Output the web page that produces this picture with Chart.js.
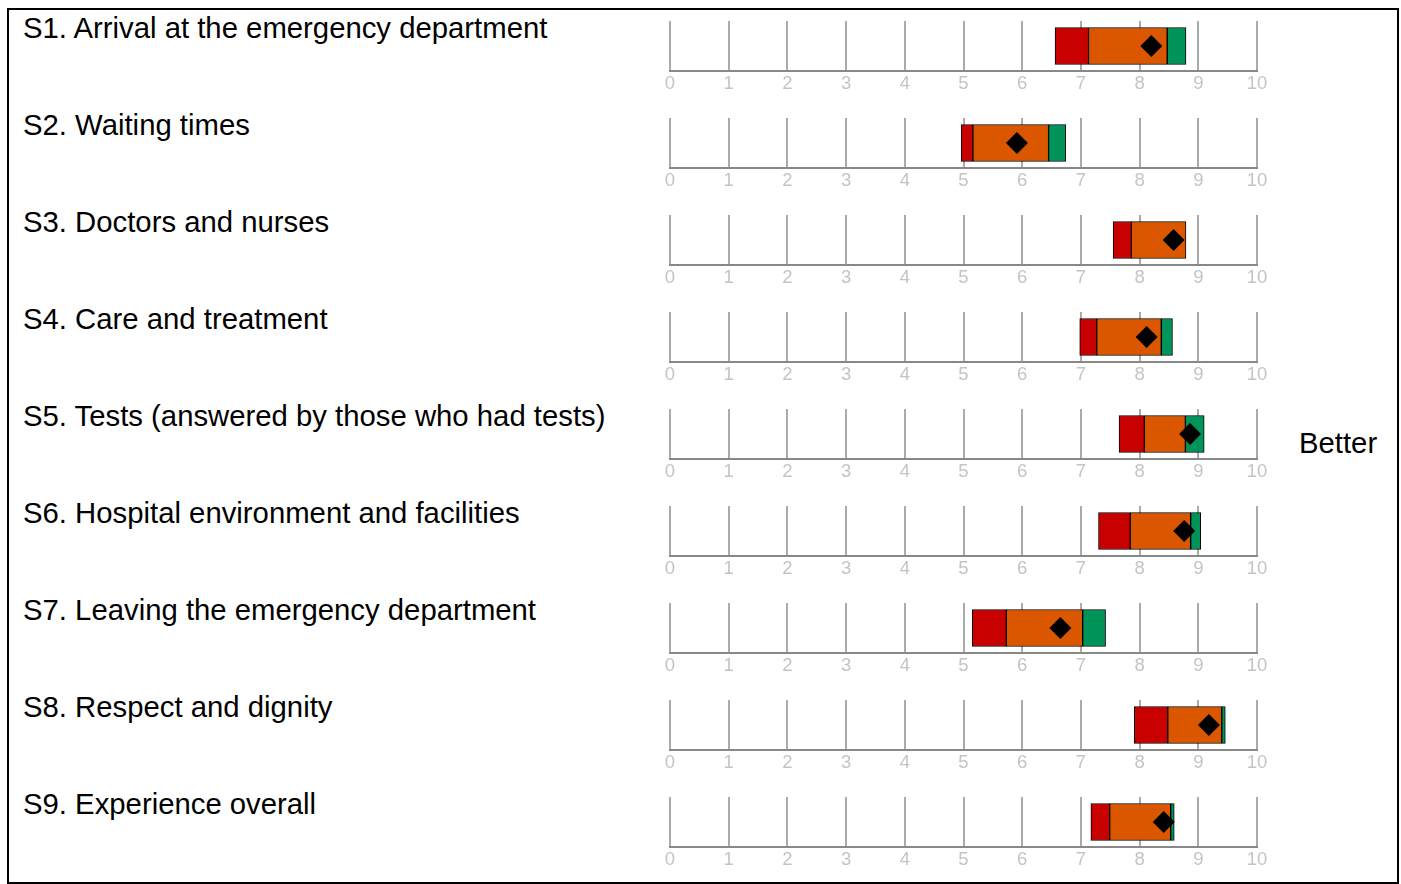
<!DOCTYPE html>
<html>
<head>
<meta charset="utf-8">
<script src="https://cdn.jsdelivr.net/npm/chart.js@4/dist/chart.umd.min.js"></script>
<style>
  html, body { margin: 0; padding: 0; background: #fff; }
  body { width: 1401px; height: 884px; position: relative; overflow: hidden; font-family: "Liberation Sans", Arial, sans-serif; }
  .frame { position: absolute; left: 7px; top: 8px; width: 1392px; height: 876px; border: 2px solid #000; box-sizing: border-box; }
  .lbl { position: absolute; left: 23px; font-size: 29.3px; line-height: 29px; color: #000; white-space: nowrap; }
  .better { position: absolute; left: 1299px; top: 428px; font-size: 29.3px; line-height: 29px; color: #000; }
  canvas.row { position: absolute; left: 640px; }
</style>
</head>
<body>
<div class="frame"></div>
<div id="root"></div>
<div class="better">Better</div>
<script>
const categories = [
  "S1. Arrival at the emergency department",
  "S2. Waiting times",
  "S3. Doctors and nurses",
  "S4. Care and treatment",
  "S5. Tests (answered by those who had tests)",
  "S6. Hospital environment and facilities",
  "S7. Leaving the emergency department",
  "S8. Respect and dignity",
  "S9. Experience overall"
];
const redStart   = [6.56, 4.96, 7.55, 6.98, 7.65, 7.30, 5.15, 7.91, 7.17];
const redEnd     = [7.13, 5.16, 7.86, 7.27, 8.08, 7.84, 5.73, 8.48, 7.49];
const orangeEnd  = [8.47, 6.45, 8.79, 8.37, 8.78, 8.87, 7.03, 9.40, 8.53];
const greenEnd   = [8.79, 6.74, 8.79, 8.56, 9.10, 9.04, 7.42, 9.46, 8.59];
const scores     = [8.20, 5.91, 8.58, 8.12, 8.86, 8.76, 6.65, 9.18, 8.41];
const tickLabels = ["0","1","2","3","4","5","6","7","8","9","10"];

const root = document.getElementById('root');
const ROW = 97;

categories.forEach((cat, i) => {
  const lbl = document.createElement('div');
  lbl.className = 'lbl';
  lbl.style.top = (12.5 + ROW * i) + 'px';
  lbl.textContent = cat;
  root.appendChild(lbl);

  const cv = document.createElement('canvas');
  cv.className = 'row';
  cv.width = 650; cv.height = 83;
  cv.style.top = (10 + ROW * i) + 'px';
  root.appendChild(cv);

  const barCommon = { type: 'bar', grouped: false, barThickness: 37, borderColor: '#000', borderWidth: 1, borderSkipped: false };
  new Chart(cv.getContext('2d'), {
    type: 'bar',
    data: {
      labels: [cat],
      datasets: [
        { type: 'line', data: [scores[i]], showLine: false, pointStyle: 'rectRot', pointRadius: 11, pointBackgroundColor: '#000', pointBorderWidth: 0, order: -1 },
        Object.assign({}, barCommon, { data: [[redStart[i], redEnd[i]]], backgroundColor: '#c80000' }),
        Object.assign({}, barCommon, { data: [[redEnd[i], orangeEnd[i]]], backgroundColor: '#da5700' }),
        Object.assign({}, barCommon, { data: [[orangeEnd[i], greenEnd[i]]], backgroundColor: '#00935a' })
      ]
    },
    options: {
      indexAxis: 'y',
      responsive: false,
      animation: false,
      devicePixelRatio: 1,
      layout: { padding: { left: 30, right: 33, top: 9, bottom: 0 } },
      plugins: { legend: { display: false }, tooltip: { enabled: false } },
      scales: {
        x: {
          type: 'linear', min: 0, max: 10,
          afterFit: (s) => { s.height = 22; },
          ticks: {
            stepSize: 1, color: '#c4c4c4', padding: 2,
            font: { family: '"Liberation Sans", Arial, sans-serif', size: 18.5 },
            callback: (v, idx) => tickLabels[idx]
          },
          grid: { color: '#ababab', lineWidth: 2, drawTicks: false },
          border: { display: true, color: '#888888', width: 2 }
        },
        y: { display: false }
      }
    }
  });
});
</script>
</body>
</html>
